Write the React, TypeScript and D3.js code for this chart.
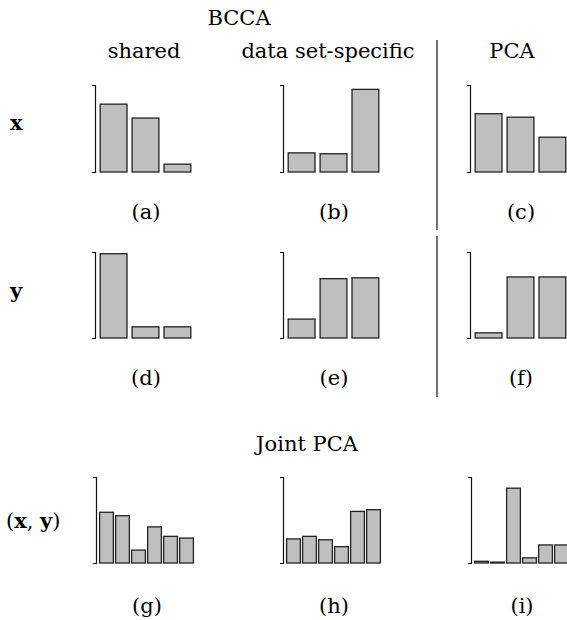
import { useEffect, useRef } from "react";
import * as d3 from "d3";

// bar heights (relative to axis height)
const sharedX = [0.78, 0.62, 0.09];
const specificX = [0.22, 0.21, 0.95];
const pcaX = [0.67, 0.63, 0.4];
const sharedY = [0.98, 0.13, 0.13];
const specificY = [0.22, 0.69, 0.7];
const pcaY = [0.06, 0.71, 0.71];
const jointShared = [0.59, 0.55, 0.15, 0.42, 0.31, 0.29];
const jointSpecific = [0.28, 0.31, 0.27, 0.19, 0.6, 0.62];
const jointPca = [0.02, 0.01, 0.87, 0.06, 0.21, 0.21];

const colTitles = ["shared", "data set-specific", "PCA"];
const panelLabels = ["(a)", "(b)", "(c)", "(d)", "(e)", "(f)", "(g)", "(h)", "(i)"];

const FONT = "'DejaVu Serif', 'Liberation Serif', serif";
const FS = 21;
const W = 567;
const H = 620;

export default function App() {
  const ref = useRef<SVGSVGElement>(null);

  useEffect(() => {
    const svg = d3.select(ref.current);
    svg.selectAll("*").remove();

    const colX = [95, 283, 470];
    const rows = [
      { top: 85, bottom: 172, data: [sharedX, specificX, pcaX], labelY: 219 },
      { top: 252, bottom: 338, data: [sharedY, specificY, pcaY], labelY: 385 },
      { top: 477, bottom: 563, data: [jointShared, jointSpecific, jointPca], labelY: 613 },
    ];

    rows.forEach((row, ri) => {
      const y = d3.scaleLinear().domain([0, 1]).range([row.bottom, row.top]);
      row.data.forEach((vals, ci) => {
        const ax = colX[ci] + (ri === 2 && ci !== 1 ? 1 : 0);
        const x = d3
          .scaleBand<number>()
          .domain(d3.range(vals.length))
          .range([ax + 2, ax + 99])
          .paddingInner(vals.length > 3 ? 0.14 : 0.16)
          .paddingOuter(0.1);

        const g = svg.append("g");
        g.append("g")
          .attr("transform", `translate(${ax},0)`)
          .call(d3.axisLeft(y).ticks(0).tickSizeOuter(3))
          .call((s) => s.select(".domain").attr("stroke", "#111").attr("stroke-width", 1.2));

        g.selectAll("rect")
          .data(vals)
          .join("rect")
          .attr("x", (_, i) => x(i)!)
          .attr("y", (d) => y(d))
          .attr("width", x.bandwidth())
          .attr("height", (d) => row.bottom - y(d))
          .attr("fill", "#bfbfbf")
          .attr("stroke", "#222")
          .attr("stroke-width", 1.3);

        svg.append("text")
          .attr("x", ax + 51)
          .attr("y", row.labelY)
          .attr("text-anchor", "middle")
          .attr("font-family", FONT)
          .attr("font-size", FS)
          .text(panelLabels[ri * 3 + ci]);
      });
    });

    const text = (t: string, x: number, yy: number, anchor = "middle", weight = "normal") =>
      svg.append("text")
        .attr("x", x)
        .attr("y", yy)
        .attr("text-anchor", anchor)
        .attr("font-family", FONT)
        .attr("font-size", FS)
        .attr("font-weight", weight)
        .text(t);

    text("BCCA", 239, 25);
    text(colTitles[0], 144, 58);
    text(colTitles[1], 328, 58);
    text(colTitles[2], 512, 58);
    text("Joint PCA", 307, 451);

    text("x", 10, 130, "start", "bold");
    text("y", 10, 298, "start", "bold");
    const xy = svg.append("text")
      .attr("x", 6)
      .attr("y", 528)
      .attr("font-family", FONT)
      .attr("font-size", FS);
    xy.append("tspan").text("(");
    xy.append("tspan").attr("font-weight", "bold").text("x");
    xy.append("tspan").text(", ");
    xy.append("tspan").attr("font-weight", "bold").text("y");
    xy.append("tspan").text(")");

    // divider between BCCA and PCA
    svg.append("line")
      .attr("x1", 437).attr("x2", 437)
      .attr("y1", 40).attr("y2", 230)
      .attr("stroke", "#111").attr("stroke-width", 1.2);
    svg.append("line")
      .attr("x1", 437).attr("x2", 437)
      .attr("y1", 236).attr("y2", 397)
      .attr("stroke", "#111").attr("stroke-width", 1.2);
  }, []);

  return (
    <div style={{ position: "absolute", left: 0, top: 0 }}>
      <svg ref={ref} width={W} height={H} style={{ display: "block", background: "#fff" }} />
    </div>
  );
}
